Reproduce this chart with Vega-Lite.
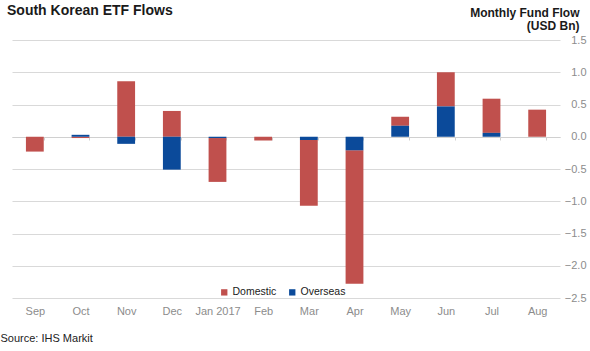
{
  "$schema": "https://vega.github.io/schema/vega-lite/v6.json",
  "width": 548,
  "height": 258,
  "autosize": {"type": "none"},
  "padding": {"left": 12, "top": 40, "right": 30, "bottom": 53},
  "background": "white",
  "title": {"text": "South Korean ETF Flows", "anchor": "start", "frame": "group", "fontSize": 14, "fontWeight": "bold", "color": "#1a1a1a", "dx": -5, "offset": -12},
  "data": {"values": [
    {"month": "Sep", "series": "Domestic", "flow": -0.23},
    {"month": "Sep", "series": "Overseas", "flow": 0},
    {"month": "Oct", "series": "Domestic", "flow": -0.02},
    {"month": "Oct", "series": "Overseas", "flow": 0.03},
    {"month": "Nov", "series": "Domestic", "flow": 0.86},
    {"month": "Nov", "series": "Overseas", "flow": -0.11},
    {"month": "Dec", "series": "Domestic", "flow": 0.40},
    {"month": "Dec", "series": "Overseas", "flow": -0.51},
    {"month": "Jan 2017", "series": "Domestic", "flow": -0.68},
    {"month": "Jan 2017", "series": "Overseas", "flow": -0.02},
    {"month": "Feb", "series": "Domestic", "flow": -0.06},
    {"month": "Feb", "series": "Overseas", "flow": 0},
    {"month": "Mar", "series": "Domestic", "flow": -1.02},
    {"month": "Mar", "series": "Overseas", "flow": -0.05},
    {"month": "Apr", "series": "Domestic", "flow": -2.07},
    {"month": "Apr", "series": "Overseas", "flow": -0.21},
    {"month": "May", "series": "Domestic", "flow": 0.14},
    {"month": "May", "series": "Overseas", "flow": 0.17},
    {"month": "Jun", "series": "Domestic", "flow": 0.53},
    {"month": "Jun", "series": "Overseas", "flow": 0.47},
    {"month": "Jul", "series": "Domestic", "flow": 0.53},
    {"month": "Jul", "series": "Overseas", "flow": 0.06},
    {"month": "Aug", "series": "Domestic", "flow": 0.42},
    {"month": "Aug", "series": "Overseas", "flow": 0}
  ]},
  "mark": {"type": "bar"},
  "encoding": {
    "x": {
      "field": "month", "type": "nominal", "sort": null,
      "scale": {"paddingInner": 0.61, "paddingOuter": 0.305},
      "axis": {
        "title": "Source: IHS Markit", "titleX": -12, "titleY": 204, "titleAlign": "left", "titleAnchor": "start",
        "titleBaseline": "alphabetic", "titleFontWeight": "normal", "titleFontSize": 11, "titleColor": "#222222",
        "labelAngle": 0, "labelFontSize": 11, "labelColor": "#8c8c8c", "labelPadding": 165,
        "offset": -161, "domainColor": "#d0d0d0", "tickColor": "#d0d0d0", "tickSize": 3, "tickBand": "extent", "grid": false
      }
    },
    "y": {
      "field": "flow", "type": "quantitative", "stack": "zero",
      "scale": {"domain": [-2.5, 1.5], "nice": false},
      "axis": {
        "orient": "right", "values": [-2.5, -2, -1.5, -1, -0.5, 0, 0.5, 1, 1.5], "format": ".1f",
        "domain": false, "ticks": false, "labelAlign": "right", "labelPadding": 26, "labelFontSize": 11, "labelColor": "#8c8c8c",
        "gridColor": "#d9d9d9",
        "title": ["Monthly Fund Flow", "(USD Bn)"], "titleAngle": 0, "titleAlign": "right", "titleX": 19, "titleY": -24,
        "titleBaseline": "alphabetic", "titleFontSize": 12, "titleFontWeight": "bold", "titleColor": "#1a1a1a", "titleLineHeight": 13.5
      }
    },
    "color": {
      "field": "series", "type": "nominal",
      "scale": {"domain": ["Domestic", "Overseas"], "range": ["#C0504D", "#0B4A9A"]},
      "legend": {"orient": "none", "legendX": 207, "legendY": 247, "direction": "horizontal", "title": null,
        "symbolType": "square", "symbolSize": 40, "labelFontSize": 10.5, "labelColor": "#1a1a1a", "columnSpacing": 14, "labelOffset": 3, "symbolStrokeWidth": 0}
    },
    "order": {"field": "series", "sort": "descending"}
  },
  "config": {"view": {"stroke": null}, "font": "Liberation Sans"}
}
